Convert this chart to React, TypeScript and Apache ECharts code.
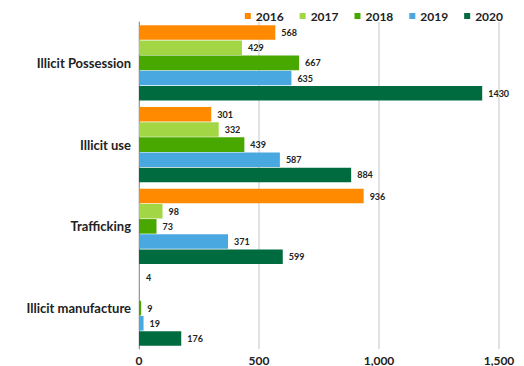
import React, { useEffect, useRef } from "react";
import * as echarts from "echarts";

const categories = ["Illicit Possession", "Illicit use", "Trafficking", "Illicit manufacture"];
const years = ["2016", "2017", "2018", "2019", "2020"];
const v2016 = [568, 301, 936, 4];
const v2017 = [429, 332, 98, 0];
const v2018 = [667, 439, 73, 9];
const v2019 = [635, 587, 371, 19];
const v2020 = [1430, 884, 599, 176];
const colors = ["#FF8A00", "#A3D645", "#48A800", "#4AA8E0", "#016B40"];

export default function App() {
  const ref = useRef<HTMLDivElement>(null);
  useEffect(() => {
    const chart = echarts.init(ref.current!, null, { renderer: "svg" });
    const all = [v2016, v2017, v2018, v2019, v2020];
    const font = "Lato, 'Open Sans', sans-serif";
    chart.setOption({
      animation: false,
      textStyle: { fontFamily: font },
      legend: {
        top: 5,
        right: 16,
        itemWidth: 6,
        itemHeight: 6,
        itemGap: 16,
        icon: "rect",
        textStyle: { fontWeight: "bold", fontSize: 12, color: "#222", fontFamily: font },
        data: years,
      },
      grid: { left: 139, right: 25, top: 22, bottom: 16, containLabel: false },
      xAxis: {
        type: "value",
        min: 0,
        max: 1500,
        interval: 500,
        axisLabel: {
          fontWeight: "bold",
          fontSize: 12,
          color: "#222",
          margin: 5,
          formatter: (v: number) => v.toLocaleString("en-US"),
        },
        splitLine: { lineStyle: { color: "#d9d9d9", width: 1.5 } },
        axisLine: { show: false },
        axisTick: { show: false },
      },
      yAxis: {
        type: "category",
        data: categories,
        inverse: true,
        axisLine: { show: true, lineStyle: { color: "#999", width: 1 } },
        axisTick: { show: false },
        axisLabel: { fontWeight: "bold", fontSize: 13, color: "#222", margin: 8 },
      },
      series: years.map((y, i) => ({
        name: y,
        type: "bar",
        data: all[i].map((v) => (v === 0 ? null : v)),
        itemStyle: { color: colors[i] },
        barCategoryGap: "8%",
        barGap: "4%",
        label: {
          show: true,
          position: "right",
          fontSize: 9,
          fontWeight: "bold",
          color: "#222",
          distance: 6,
        },
      })),
    });
    return () => chart.dispose();
  }, []);
  return (
    <div
      ref={ref}
      style={{ position: "absolute", left: 0, top: 0, width: 524, height: 366 }}
    />
  );
}
